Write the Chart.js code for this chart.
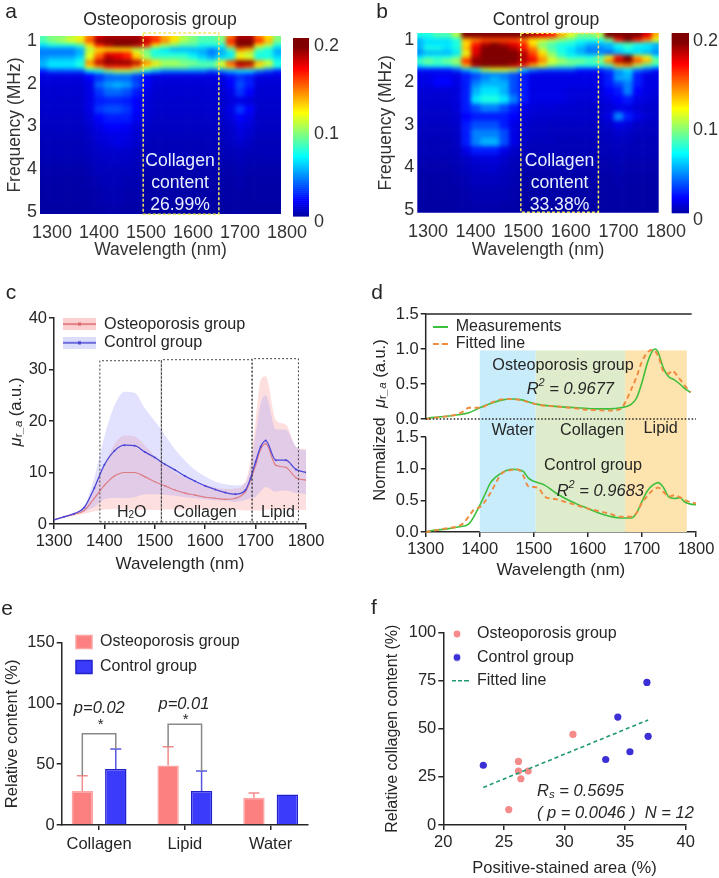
<!DOCTYPE html>
<html><head><meta charset="utf-8">
<script src="https://cdn.jsdelivr.net/npm/chart.js@4"></script>
<style>html,body{margin:0;padding:0;background:#fff}#root{position:relative;width:719px;height:878px;overflow:hidden}canvas{position:absolute;left:0;top:0}</style>
</head><body><div id="root"></div>
<script>
/* ---------- DATA ---------- */
const heatWaves=[1280,1300,1320,1340,1360,1380,1400,1420,1440,1460,1480,1500,1520,1540,1560,1580,1600,1620,1640,1660,1680,1700,1720,1740,1760,1780];
const heatFreqs=[0.9,1.0,1.1,1.2,1.3,1.4,1.5,1.6,1.7,1.8,1.9,2.0,2.2,2.4,2.6,2.8,3.0,3.2,3.4,3.6,3.8,4.0,4.3,4.6,5.0];
const heatOsteo=[
[9,10,10,11,12,15,18,19,19,19,19,17,16,14,13,11,10,9,9,10,15,19,19,15,13,10],
[9,10,11,12,13,16,20,20,20,20,20,19,17,15,13,11,10,9,9,10,17,20,20,17,14,10],
[7,8,8,8,9,13,17,19,20,20,19,17,13,11,10,9,9,8,8,8,15,20,20,13,11,8],
[5,5,5,5,6,11,13,13,13,13,11,10,8,7,6,6,6,6,5,6,9,15,14,9,8,6],
[5,5,5,5,6,12,15,18,18,17,13,10,8,8,8,8,7,6,5,6,7,12,11,8,8,6],
[5.5,6,6,6,7,12,16,19,18,17,14,11,9,9,9,9,8,7,6,7,8,13,12,8,8,7],
[6,7,7,7,8,15,19,20,20,20,19,15,13,11,11,10,10,9,9,12,16,20,20,14,12,8],
[6,7,7,7,8,13,15,17,17,17,15,13,11,10,10,10,9,9,9,11,14,17,16,12,10,8],
[3,4,4,4,4,7,8,10,11,11,10,8,6,5,5,5,5,5,4,5,6,7,7,5,4,3],
[2,2,2,2,2,2.5,3.5,4.5,5,5,4,2.5,2,2,2,2,2,2,2,2,3,3.5,3,2,2,2],
[1.8,1.8,1.8,1.8,1.8,2.5,3.5,4.5,4.5,4.5,3.5,2.5,1.8,1.8,1.8,1.8,1.8,1.8,1.8,1.8,2.5,3.5,3,1.8,1.8,1.8],
[1.7,1.7,1.7,1.7,1.7,2,4.5,5.5,6,5.5,4,2.5,1.7,1.7,1.7,1.7,1.7,1.7,1.7,1.7,2.5,4,3,1.7,1.7,1.7],
[1.6,1.6,1.6,1.6,1.6,2,3.5,4.5,4.5,4,3,2,1.6,1.6,1.6,1.6,1.6,1.6,1.6,1.6,2,3.5,2.5,1.6,1.6,1.6],
[1.5,1.5,1.5,1.5,1.5,2,3,3.2,3.2,3,2.5,1.8,1.5,1.5,1.5,1.5,1.5,1.5,1.5,1.5,1.8,2,1.8,1.5,1.5,1.5],
[1.5,1.5,1.5,1.5,1.5,2,3.5,4,4,3.5,2.5,1.8,1.5,1.5,1.5,1.5,1.5,1.5,1.5,1.5,2,3.5,2.5,1.5,1.5,1.5],
[1.4,1.4,1.4,1.4,1.4,1.8,2.5,3,3,3,2.2,1.7,1.4,1.4,1.4,1.4,1.4,1.4,1.4,1.4,1.8,2.5,2,1.4,1.4,1.4],
[1.3,1.3,1.3,1.3,1.3,1.6,2,2.5,2.5,2.3,1.8,1.5,1.3,1.3,1.3,1.3,1.3,1.3,1.3,1.3,1.5,2,1.7,1.3,1.3,1.3],
[1.2,1.2,1.2,1.2,1.2,1.4,1.8,2,2,2,1.6,1.3,1.2,1.2,1.2,1.2,1.2,1.2,1.2,1.2,1.4,1.8,1.5,1.2,1.2,1.2],
[1.1,1.1,1.1,1.1,1.1,1.3,1.6,1.8,2,1.8,1.5,1.2,1.1,1.1,1.1,1.1,1.1,1.1,1.1,1.1,1.3,1.5,1.3,1.1,1.1,1.1],
[1.1,1.1,1.1,1.1,1.1,1.2,1.4,1.5,1.5,1.5,1.3,1.1,1.1,1.1,1.1,1.1,1.1,1.1,1.1,1.1,1.1,1.2,1.1,1.1,1.1,1.1],
[1,1,1,1,1,1.1,1.3,1.4,1.4,1.3,1.2,1,1,1,1,1,1,1,1,1,1,1.1,1,1,1,1],
[0.9,0.9,0.9,0.9,0.9,1,1.2,1.2,1.2,1.2,1.1,0.9,0.9,0.9,0.9,0.9,0.9,0.9,0.9,0.9,0.9,1,0.9,0.9,0.9,0.9],
[0.8,0.8,0.8,0.8,0.8,0.9,1,1.1,1.1,1,1,0.8,0.8,0.8,0.8,0.8,0.8,0.8,0.8,0.8,0.8,0.9,0.8,0.8,0.8,0.8],
[0.75,0.75,0.75,0.75,0.75,0.8,0.9,1,1,0.9,0.9,0.75,0.75,0.75,0.75,0.75,0.75,0.75,0.75,0.75,0.75,0.8,0.75,0.75,0.75,0.75],
[0.7,0.7,0.7,0.7,0.7,0.75,0.8,0.9,0.9,0.8,0.8,0.7,0.7,0.7,0.7,0.7,0.7,0.7,0.7,0.7,0.7,0.75,0.7,0.7,0.7,0.7]
];
const heatControl=[
[8,8,9,9,11,20,20,20,20,20,20,20,19,18,17,14,12,10,10,11,20,20,20,20,18,14],
[6,7,7,7,8,14,15,16,16,16,16,15,13,12,11,10,9,8,8,8,10,17,20,17,15,12],
[6,7,7,7,8,13,17,19,20,19,18,17,13,10,9,8,8,7,6,6,6,8,9,8,7,6],
[6,8,8,7,8,14,18,20,20,20,19,17,15,11,9,8,7,6,5,5,6,7,8,7,7,6],
[5,6,6,6,7,12,18,20,20,20,20,19,16,13,10,8,7,6,5,5,4,6,7,7,6,5],
[7,8,8,8,9,14,19,20,20,20,20,19,17,14,11,9,8,8,8,9,12,17,20,14,12,8],
[9,10,9,10,11,17,20,20,20,20,20,19,18,15,12,11,10,10,9,10,15,19,20,16,14,10],
[7,8,8,8,9,14,19,20,20,20,19,17,14,12,10,9,9,8,8,8,9,14,15,11,9,8],
[3,3,3,3,4,6,8,11,12,12,11,7,5,4,4,4,4,3,3,3,4,6,7,5,4,3],
[2,2,2,2,2,3,4,5,5,5,4,3,2,2,2,2,2,2,2,2,3,5,6,3,2,2],
[2,2,2.5,2.5,2,3,4,5,6,5,4,3,2,2,2,2,2,2,2,2,3,6,6,3,2,2],
[2,2,2.5,2.5,2,3,5,6,6,6,4,3,2,2,2,2,2,2,2,2,3,4,5,3,2,2],
[1.7,1.7,1.7,1.7,1.8,3,6,7,7,6,4,3,2,2,2,2,1.8,1.8,1.8,1.8,2.5,3,5,2.5,2,1.8],
[1.6,1.6,1.6,1.6,1.8,3,7,8,8,7,5,3,2,2,2,2,1.8,1.7,1.7,1.7,2,2.5,3,2,1.8,1.7],
[1.5,1.5,1.5,1.5,1.7,3,4,5,5,4,3,2,1.8,1.7,1.7,1.6,1.6,1.5,1.5,1.5,1.7,2,2,1.7,1.5,1.5],
[1.4,1.4,1.4,1.4,1.6,2.5,3,3,3,3,2.5,1.8,1.6,1.5,1.5,1.5,1.5,1.5,1.5,1.5,2,5,3,2,1.6,1.5],
[1.3,1.3,1.3,1.3,1.5,3,4,4,4,3,2,1.6,1.4,1.4,1.3,1.3,1.3,1.3,1.3,1.3,1.5,2,1.8,1.4,1.3,1.3],
[1.2,1.2,1.2,1.2,1.4,3,5,5,5,4,2,1.5,1.3,1.3,1.2,1.2,1.2,1.2,1.2,1.2,1.3,1.5,1.4,1.2,1.2,1.2],
[1.1,1.1,1.1,1.1,1.3,3,5,6,6,4,2,1.4,1.2,1.2,1.2,1.1,1.1,1.1,1.1,1.1,1.2,1.3,1.2,1.1,1.1,1.1],
[1.1,1.1,1.1,1.1,1.2,2,3,3,3,2,1.5,1.2,1.1,1.1,1.1,1.1,1.1,1.1,1.1,1.1,1.1,1.2,1.1,1.1,1.1,1.1],
[1,1,1,1,1.1,1.4,1.7,1.8,1.8,1.5,1.2,1,1,1,1,1,1,1,1,1,1,1.1,1,1,1,1],
[0.9,0.9,0.9,0.9,1,1.2,1.4,1.5,1.5,1.3,1.1,0.9,0.9,0.9,0.9,0.9,0.9,0.9,0.9,0.9,0.9,1,0.9,0.9,0.9,0.9],
[0.8,0.8,0.8,0.8,0.9,1,1.2,1.2,1.2,1.1,1,0.8,0.8,0.8,0.8,0.8,0.8,0.8,0.8,0.8,0.8,0.9,0.8,0.8,0.8,0.8],
[0.75,0.75,0.75,0.75,0.8,0.9,1,1,1,1,0.9,0.75,0.75,0.75,0.75,0.75,0.75,0.75,0.75,0.75,0.75,0.8,0.75,0.75,0.75,0.75],
[0.7,0.7,0.7,0.7,0.75,0.8,0.9,0.9,0.9,0.8,0.8,0.7,0.7,0.7,0.7,0.7,0.7,0.7,0.7,0.7,0.7,0.75,0.7,0.7,0.7,0.7]
];
const heatTickX=[1300,1400,1500,1600,1700,1800];
const heatTickY=[1,2,3,4,5];
const colorTicks=[0,0.1,0.2];
const boxOsteoX=[1494,1655], boxOsteoY=[0.81,5.05];
const boxControlX=[1495,1658], boxControlY=[0.84,5.05];

const specWaves=[1300,1320,1340,1360,1380,1400,1420,1440,1460,1480,1500,1520,1540,1560,1580,1600,1620,1640,1660,1680,1690,1700,1710,1720,1740,1760,1780,1800];
const ctrlMean=[0.8,1.4,2.0,3.2,7,11.5,14.2,15.3,15.2,14,12.9,11.6,10.5,9.3,8.3,7.4,6.7,6.1,5.8,6.6,8.9,12.1,15,16.2,12.4,12.4,10.6,10];
const ctrlUpper=[0.8,1.5,2.2,3.5,9,17,23,25.7,25.5,22.5,20,17.3,14.5,12.3,10.5,9.2,8.2,7.7,7.5,8,11,17.3,23.4,25,18.4,18.3,15,14.3];
const ctrlLower=[0.8,1.3,1.8,2.5,3.3,4.8,5.1,5,5.2,5.8,5.8,5.7,5.5,5.2,5,4.8,4.6,4.5,4.3,4.7,5,5.3,6.3,7.2,6.3,6.5,6,5.8];
const opMean=[0.8,1.4,1.9,2.6,5,7.5,9.3,10,10,9.2,8.2,7.4,6.6,6,5.6,5.2,5,4.8,5,6.3,8.5,11.4,14.5,15.6,11.4,11,9,8.5];
const opUpper=[0.8,1.5,2.2,3.2,7,11.5,15.5,17.2,17,15.3,13.2,11.7,10,9,8.2,7.6,7.1,6.8,6.9,8.3,12.4,19.9,28,28.7,20.2,19.3,15,14.5];
const opLower=[0.8,1.2,1.6,2,2.5,2.8,2.9,2.8,2.8,2.7,2.7,2.8,2.8,2.8,2.9,2.8,2.8,2.7,2.8,2.6,2.6,2.6,2.6,2.8,2.8,2.8,2.7,2.7];
const regionBoxesC=[[1391,1513,31.7],[1513,1693,31.9],[1693,1785,32.1]];

const dMeasWaveTop=[1300,1310,1340,1360,1380,1400,1420,1440,1460,1480,1500,1520,1540,1560,1580,1600,1620,1640,1660,1680,1690,1700,1710,1720,1725,1730,1740,1750,1760,1770,1780,1790];
const dMeasTop=[0,0.02,0.04,0.06,0.09,0.16,0.22,0.27,0.285,0.27,0.22,0.195,0.18,0.17,0.16,0.15,0.145,0.145,0.16,0.21,0.3,0.52,0.8,0.98,1,0.95,0.72,0.6,0.56,0.5,0.43,0.38];
const dFitWaveTop=[1300,1320,1340,1360,1370,1380,1400,1420,1440,1460,1480,1500,1520,1540,1560,1580,1600,1620,1640,1660,1670,1680,1690,1700,1710,1720,1730,1740,1750,1755,1770,1780,1790];
const dFitTop=[0,0.02,0.04,0.07,0.11,0.16,0.16,0.23,0.28,0.285,0.26,0.22,0.19,0.18,0.165,0.15,0.13,0.125,0.12,0.14,0.25,0.42,0.6,0.82,0.95,0.99,0.9,0.68,0.65,0.69,0.57,0.47,0.38];
const dMeasWaveBot=[1300,1310,1340,1360,1380,1400,1410,1420,1440,1460,1480,1490,1500,1520,1540,1560,1580,1600,1620,1640,1660,1680,1690,1700,1710,1720,1730,1740,1750,1760,1770,1780,1790,1800];
const dMeasBot=[0,0.02,0.05,0.08,0.13,0.42,0.6,0.78,0.93,0.99,0.96,0.85,0.8,0.74,0.62,0.52,0.44,0.37,0.3,0.25,0.22,0.22,0.3,0.48,0.65,0.74,0.78,0.7,0.55,0.53,0.54,0.47,0.44,0.43];
const dFitWaveBot=[1300,1320,1340,1360,1370,1380,1390,1400,1420,1430,1440,1460,1470,1480,1490,1500,1510,1520,1540,1560,1580,1600,1620,1640,1660,1680,1690,1700,1710,1720,1730,1740,1750,1760,1770,1780,1800];
const dFitBot=[0,0.03,0.06,0.09,0.14,0.25,0.36,0.39,0.62,0.78,0.92,0.98,0.99,0.9,0.72,0.71,0.68,0.56,0.52,0.47,0.42,0.37,0.33,0.29,0.24,0.24,0.3,0.46,0.57,0.66,0.7,0.63,0.56,0.58,0.55,0.5,0.45];
const dBandEdges=[1400,1503.5,1669,1783];
const dBandColors=['#c9ecfa','#dfeccb','#fde3ae'];
const dTicksY=[0,0.5,1,1.5];

const eCategories=['Collagen','Lipid','Water'];
const eOsteo=[28,49,22.5];
const eControl=[46,28,25];
const eOsteoErr=[40.6,64.4,26.3];
const eControlErr=[62.5,44.4,25];
const eBrackets=[{i:0,top:75},{i:1,top:83}];

const fOsteoX=[25.4,26.2,26.2,26.4,27,30.7], fOsteoY=[8,33,28,24,28,47];
const fControlX=[23.3,33.4,34.4,35.4,36.8,36.9], fControlY=[31,34,56,38,74,46];
const fLineX=[23.3,36.9], fLineY=[19.5,54.5];

/* ---------- HELPERS ---------- */
const W=719,H=878,FF='"Liberation Sans",Arial,sans-serif',INK='#262626';
const root=document.getElementById('root');
const f=(s,st='')=>`${st} ${s}px ${FF}`.trim();
const zip=(x,y)=>x.map((v,i)=>({x:v,y:y[i]}));
Chart.defaults.font.family=FF;
Chart.defaults.animation=false;

function jet(v){const t=Math.min(1,Math.max(0,v/20));const c=a=>Math.round(255*Math.min(1,Math.max(0,1.5-Math.abs(4*t-a))));return `rgb(${c(3)},${c(2)},${c(1)})`;}

function textPlugin(items){return{id:'texts',afterDatasetsDraw(ch){const c=ch.ctx;items.forEach(it=>{
  c.save();c.translate(it.x,it.y);if(it.rot)c.rotate(it.rot);c.fillStyle=it.color||INK;c.textBaseline='middle';c.textAlign='left';
  const runs=it.runs||[{t:it.t,font:it.font}];let w=0;runs.forEach(r=>{c.font=r.font||it.font;w+=c.measureText(r.t).width;});
  let x=(it.align==='left')?0:-w/2;runs.forEach(r=>{c.font=r.font||it.font;c.fillText(r.t,x,r.dy||0);x+=c.measureText(r.t).width;});c.restore();});}};}
function legendAt(x,y){return{id:'legendAt',afterLayout(ch){const l=ch.legend,p=l.options.labels.padding;l.left=x-p;l.top=y-p;l.right=W;l.bottom=H;}};}
function swatch(w,h,draw){const s=document.createElement('canvas');s.width=w;s.height=h;draw(s.getContext('2d'));return s;}
function legendOpts(items,size,pad,boxW,extra){return{display:true,position:'chartArea',align:'start',labels:Object.assign({usePointStyle:true,pointStyleWidth:boxW,boxHeight:size,boxWidth:boxW,padding:pad,font:{size},color:INK,
  generateLabels:()=>items.map(i=>Object.assign({hidden:false,lineWidth:0,fontColor:INK},i))},extra||{})};}
function axis(o){const b={type:'linear',grid:{display:true,drawOnChartArea:false,drawTicks:true,color:INK,lineWidth:1.5,tickLength:5,tickWidth:1.5},border:{display:true,color:INK,width:1.5},
  ticks:{color:INK,font:{size:o.size||16},padding:2,autoSkip:false,maxRotation:0,minRotation:0,callback:v=>String(v)}};
  if(o.title)b.title={display:true,text:o.title,color:o.titleColor||INK,font:{size:o.titleSize||17},padding:0};
  return b;}
function mk(type,plot,yW,xH,data,scales,plugins,legend){
  const cv=document.createElement('canvas');cv.width=W;cv.height=H;root.appendChild(cv);
  Object.values(scales).forEach(s=>{s.afterFit=k=>{if(k.isHorizontal())k.height=xH;else k.width=yW;};});
  return new Chart(cv,{type,data,plugins,options:{responsive:false,maintainAspectRatio:false,animation:false,devicePixelRatio:1,events:[],
    layout:{autoPadding:false,padding:{left:plot.l-(plot.rightAxis?0:yW),top:plot.t,right:W-plot.r-(plot.rightAxis?yW:0),bottom:H-plot.b-xH}},
    plugins:{legend:legend||{display:false},tooltip:{enabled:false},title:{display:false}},scales}});
}
const setTicks=a=>s=>{s.ticks=a.map(v=>({value:v}));};
const NOGRID={display:false,drawTicks:false};

/* ---------- HEAT PANELS ---------- */
function heatPlugin(grid){return{id:'heat',beforeDatasetsDraw(ch){
  const sx=ch.scales.x,sy=ch.scales.y,a=ch.chartArea,off=document.createElement('canvas');off.width=W;off.height=H;const o=off.getContext('2d');
  grid.forEach((row,r)=>{const fr=heatFreqs[r];
    const y0=sy.getPixelForValue(r?(heatFreqs[r-1]+fr)/2:fr-0.5),y1=sy.getPixelForValue(r<grid.length-1?(heatFreqs[r+1]+fr)/2:fr+0.5);
    row.forEach((v,c)=>{const w=heatWaves[c];const x0=sx.getPixelForValue(c?w-10:w-40),x1=sx.getPixelForValue(c<row.length-1?w+10:w+40);
      o.fillStyle=jet(v);o.fillRect(x0,y0,x1-x0+0.6,y1-y0+0.6);});});
  const c=ch.ctx;c.save();c.beginPath();c.rect(a.left,a.top,a.right-a.left,a.bottom-a.top);c.clip();c.filter='blur(2px)';c.drawImage(off,0,0);c.restore();
}};}
function barPlugin(){return{id:'cbar',beforeDatasetsDraw(ch){const s=ch.scales.y,a=ch.chartArea,c=ch.ctx,span=s.max-s.min;
  for(let i=0;i<90;i++){const v0=s.min+span*i/90,v1=s.min+span*(i+1)/90;const y0=s.getPixelForValue(v1),y1=s.getPixelForValue(v0);c.fillStyle=jet((v0+v1)/2*100);c.fillRect(a.left,y0,a.right-a.left,y1-y0+0.6);}
}};}
function heatPanel(p){
  const pxPerNm=(p.x1800-p.x1300)/500, pxPerF=(p.y5-p.y1)/4;
  const xMin=1300-(p.x1300-p.l)/pxPerNm, xMax=1300+(p.r-p.x1300)/pxPerNm;
  const yMin=1-(p.y1-p.t)/pxPerF, yMax=1+(p.b-p.y1)/pxPerF;
  const xs=axis({title:'Wavelength (nm)',size:18});Object.assign(xs,{min:xMin,max:xMax,afterBuildTicks:setTicks(heatTickX),grid:NOGRID,border:{display:false},position:'bottom',axis:'x'});
  xs.ticks.padding=p.xPad;xs.title.color='#333';xs.ticks.color='#333';xs.title.font.size=17.5;
  const ys=axis({title:'Frequency (MHz)',size:18});Object.assign(ys,{min:yMin,max:yMax,reverse:true,afterBuildTicks:setTicks(heatTickY),grid:NOGRID,border:{display:false},position:'left',axis:'y'});
  ys.ticks.padding=3;ys.title.color='#333';ys.ticks.color='#333';ys.title.font.size=17.5;
  const bx=p.boxX,by=p.boxY;
  const boxPts=zip([bx[0],bx[1],bx[1],bx[0],bx[0]],[by[0],by[0],by[1],by[1],by[0]]);
  mk('scatter',p,p.l-p.titleX+10.5,p.xTitleY+10.5-p.b,{datasets:[{data:boxPts,showLine:true,pointRadius:0,borderColor:'#f4e75e',borderWidth:1.5,borderDash:[3,2],clip:false,tension:0}]},{x:xs,y:ys},[heatPlugin(p.grid),textPlugin(p.texts)]);
  /* colour bar */
  const c=p.cbar,per=(c.y0-c.y2)/0.2;
  const cy=axis({size:18});Object.assign(cy,{position:'right',axis:'y',min:(c.y0-c.b)/per,max:0.2+(c.y2-c.t)/per,afterBuildTicks:setTicks(colorTicks),grid:NOGRID,border:{display:false}});
  cy.ticks.padding=c.pad;cy.ticks.color='#333';
  const cx={type:'linear',display:false,axis:'x',min:0,max:1};
  mk('scatter',{l:c.l,r:c.r,t:c.t,b:c.b,rightAxis:true},30,0,{datasets:[{data:[]}]},{x:cx,y:cy},[barPlugin()]);
}
const boxText='#e9eeff';
heatPanel({l:40,r:281,t:36,b:214,x1300:52,x1800:287,y1:41,y5:212,xPad:8,titleX:15,xTitleY:250,grid:heatOsteo,boxX:boxOsteoX,boxY:boxOsteoY,
  cbar:{l:293,r:309,t:38,b:216,y2:46,y0:222,pad:5},
  texts:[{t:'a',x:11,y:12,font:f(21)},{t:'Osteoporosis group',x:160,y:20,font:f(17.6)},
  {t:'Collagen',x:180,y:161,font:f(17.6),color:boxText},{t:'content',x:180,y:183,font:f(17.6),color:boxText},{t:'26.99%',x:180,y:205,font:f(17.6),color:boxText}]});
heatPanel({l:417.3,r:658.7,t:33,b:212.7,x1300:428,x1800:666,y1:40,y5:210,xPad:9,titleX:386,xTitleY:250,grid:heatControl,boxX:boxControlX,boxY:boxControlY,
  cbar:{l:671.7,r:689,t:33,b:212.7,y2:41,y0:220,pad:4},
  texts:[{t:'b',x:382,y:12,font:f(21)},{t:'Control group',x:546,y:20,font:f(17.6)},
  {t:'Collagen',x:559.5,y:161,font:f(17.6),color:boxText},{t:'content',x:559.5,y:183,font:f(17.6),color:boxText},{t:'33.38%',x:559.5,y:205,font:f(17.6),color:boxText}]});

/* ---------- PANEL C ---------- */
(function(){
  const plot={l:54,r:306,t:318,b:524};
  const x=axis({title:'Wavelength (nm)',size:16.5});Object.assign(x,{min:1300,max:1800,position:'bottom',axis:'x'});x.ticks.stepSize=100;x.ticks.padding=3;
  const y=axis({size:16.5});Object.assign(y,{min:0,max:40,position:'left',axis:'y'});y.ticks.stepSize=10;
  const ds=[],sm={cubicInterpolationMode:'monotone'};
  regionBoxesC.forEach(b=>ds.push({data:zip([b[0],b[1],b[1],b[0],b[0]],[0.4,0.4,b[2],b[2],0.4]),showLine:true,pointRadius:0,borderColor:'#444',borderWidth:1,borderDash:[2,2],order:0,clip:false}));
  ds.push(Object.assign({data:zip(specWaves,ctrlMean),showLine:true,borderColor:'#4a46d8',borderWidth:1.3,pointRadius:1,pointBackgroundColor:'#4a46d8',pointBorderWidth:0,order:1},sm));
  ds.push(Object.assign({data:zip(specWaves,opMean),showLine:true,borderColor:'#dc7d84',borderWidth:1.2,pointRadius:0.8,pointBackgroundColor:'#dc7d84',pointBorderWidth:0,order:2},sm));
  const ci=ds.length;
  ds.push(Object.assign({data:zip(specWaves,ctrlUpper),showLine:true,pointRadius:0,borderWidth:0,fill:{target:ci+1},backgroundColor:'rgba(146,146,250,0.27)',borderColor:'transparent',order:3},sm));
  ds.push(Object.assign({data:zip(specWaves,ctrlLower),showLine:true,pointRadius:0,borderWidth:0,borderColor:'transparent',order:3},sm));
  const oi=ds.length;
  ds.push(Object.assign({data:zip(specWaves,opUpper),showLine:true,pointRadius:0,borderWidth:0,fill:{target:oi+1},backgroundColor:'rgba(252,170,170,0.38)',borderColor:'transparent',order:4},sm));
  ds.push(Object.assign({data:zip(specWaves,opLower),showLine:true,pointRadius:0,borderWidth:0,borderColor:'transparent',order:4},sm));
  const sw=(band,line)=>swatch(33,12,c=>{c.fillStyle=band;c.fillRect(0,0,33,12);c.fillStyle=line;c.fillRect(0,5.3,33,1.4);c.fillRect(15,4.5,3,3);});
  mk('scatter',plot,40,51,{datasets:ds},{x,y},[textPlugin([
    {t:'c',x:11,y:293,font:f(21)},
    {x:16,y:412,rot:-Math.PI/2,runs:[{t:'\u03bc',font:f(16.5,'italic')},{t:'r',font:f(11.5),dy:3},{t:'_a',font:f(11.5,'italic'),dy:3},{t:' (a.u.)',font:f(16.5)}]},
    {x:131.7,y:513,runs:[{t:'H',font:f(16)},{t:'2',font:f(10),dy:2},{t:'O',font:f(16)}]},
    {t:'Collagen',x:205,y:513,font:f(16)},{t:'Lipid',x:278,y:513,font:f(16)}
  ]),legendAt(63,316)],legendOpts([
    {text:'Osteoporosis group',pointStyle:sw('#fbd0d0','#d9636a')},
    {text:'Control group',pointStyle:sw('#dcdcfb','#3f3fd0')}],16.2,2.5,33));
})();

/* ---------- PANEL D ---------- */
(function(){
  const plot={l:425.7,r:696,t:314,b:532};
  const x=axis({title:'Wavelength (nm)',size:16.5});Object.assign(x,{min:1300,max:1800,position:'bottom',axis:'x'});x.ticks.stepSize=100;x.ticks.padding=3;
  const yy=(min,max,w)=>{const a=axis({size:16.5});Object.assign(a,{min,max,position:'left',axis:'y',stack:'d',stackWeight:w,afterBuildTicks:setTicks(dTicksY)});a.ticks.callback=v=>Number(v).toFixed(1);a.border={display:false};return a;};
  const top=yy(-9/70,1.5,114),bot=yy(0,104/63.33,104);
  const lines=(xs,ys,yID,color,extra)=>Object.assign({data:zip(xs,ys),yAxisID:yID,showLine:true,pointRadius:0,borderColor:color,borderWidth:1.6,clip:false},extra||{});
  const G='#3cbf3c',O='#ef8a3e',dash={borderDash:[5,3.5],borderWidth:1.9},smooth={cubicInterpolationMode:'monotone'};
  const bandPlugin={id:'bands',beforeDatasetsDraw(ch){const c=ch.ctx,sx=ch.scales.x,t=ch.scales.y1.getPixelForValue(0.98),b=ch.scales.y2.getPixelForValue(0);
    dBandColors.forEach((col,i)=>{const l=sx.getPixelForValue(dBandEdges[i]),r=sx.getPixelForValue(dBandEdges[i+1]);c.fillStyle=col;c.fillRect(l,t,r-l,b-t);});}};
  const ds=[
    lines([1300,1300],[0,1.5],'y1',INK,{borderWidth:1.5}),lines([1300,1300],[0,1.5],'y2',INK,{borderWidth:1.5}),
    lines([1300,1792],[1.5,1.5],'y1',INK,{borderWidth:1.5}),lines([1300,1800],[0,0],'y1','#222',{borderDash:[1.5,2],borderWidth:1.3}),
    lines(dFitWaveTop,dFitTop,'y1',O,Object.assign({},dash,smooth)),lines(dMeasWaveTop,dMeasTop,'y1',G,smooth),
    lines(dFitWaveBot,dFitBot,'y2',O,Object.assign({},dash,smooth)),lines(dMeasWaveBot,dMeasBot,'y2',G,smooth)];
  const r2=v=>[{t:'R',font:f(16.5,'italic')},{t:'2',font:f(11,'italic'),dy:-6},{t:' = '+v,font:f(16.5,'italic')}];
  mk('scatter',plot,45,49,{datasets:ds},{x,y2:bot,y1:top},[bandPlugin,textPlugin([
    {t:'d',x:377,y:293,font:f(21)},
    {x:380,y:420,rot:-Math.PI/2,runs:[{t:'Normalized  ',font:f(16.5)},{t:'\u03bc',font:f(16.5,'italic')},{t:'r',font:f(11.5),dy:3},{t:'_a',font:f(11.5,'italic'),dy:3},{t:' (a.u.)',font:f(16.5)}]},
    {t:'Osteoporosis group',x:563,y:366,font:f(16.2)},{x:526.7,y:389,align:'left',runs:r2('0.9677')},
    {t:'Water',x:512.7,y:431,font:f(16.2)},{t:'Collagen',x:592,y:431,font:f(16.2)},{t:'Lipid',x:660.7,y:429,font:f(16.2)},
    {t:'Control group',x:593,y:466,font:f(16.2)},{x:556.7,y:491,align:'left',runs:r2('0.9683')}
  ]),legendAt(432.7,319)],legendOpts([
    {text:'Measurements',pointStyle:swatch(15,4,c=>{c.fillStyle=G;c.fillRect(0,1,15,2);})},
    {text:'Fitted line',pointStyle:swatch(15,4,c=>{c.fillStyle=O;c.fillRect(0,1,6,2);c.fillRect(9,1,6,2);})}],16,1,15));
})();

/* ---------- PANEL E ---------- */
(function(){
  const plot={l:61.7,r:308,t:642.7,b:825};
  const x=axis({size:16.5});Object.assign(x,{min:1-(99-61.7)/85.7,max:3+(308-270.7)/85.7,offset:false,position:'bottom',axis:'x',afterBuildTicks:setTicks([1,2,3])});
  x.grid.offset=false;x.ticks.callback=v=>eCategories[v-1];x.ticks.padding=5;
  const y=axis({title:'Relative content (%)',size:16.5,titleSize:16.5});Object.assign(y,{min:0,max:150,position:'left',axis:'y',afterBuildTicks:setTicks([0,50,100,150])});
  const catX=[1,2,3];
  const mkBar=(v,bg,bd,label)=>({type:'bar',label,data:zip(catX,v),backgroundColor:bg,borderColor:bd,borderWidth:1.5,categoryPercentage:0.78,barPercentage:0.64});
  const deco={id:'err',afterDatasetsDraw(ch){const c=ch.ctx,sy=ch.scales.y;
    [[0,eOsteoErr,'#f28c8c'],[1,eControlErr,'#5757e2']].forEach(([di,err,col])=>{const m=ch.getDatasetMeta(di);err.forEach((e,i)=>{const bx=m.data[i].x,bs=m.data[i].y,t=sy.getPixelForValue(e);
      if(Math.abs(t-bs)<1)return;c.strokeStyle=col;c.lineWidth=1.5;c.beginPath();c.moveTo(bx,bs);c.lineTo(bx,t);c.moveTo(bx-5.5,t);c.lineTo(bx+5.5,t);c.stroke();});});
    eBrackets.forEach(b=>{const mA=ch.getDatasetMeta(0).data[b.i],mB=ch.getDatasetMeta(1).data[b.i],ty=sy.getPixelForValue(b.top);
      c.strokeStyle='#8a8a8a';c.lineWidth=1.5;c.beginPath();c.moveTo(mA.x,sy.getPixelForValue(eOsteoErr[b.i]));c.lineTo(mA.x,ty);c.lineTo(mB.x,ty);c.lineTo(mB.x,sy.getPixelForValue(eControlErr[b.i]));c.stroke();});
  }};
  mk('bar',plot,59,52,{datasets:[mkBar(eOsteo,'#fd8080','#fca4a4','Osteoporosis group'),mkBar(eControl,'#3b3bfb','#2222cc','Control group')]},{x,y},[deco,textPlugin([
    {t:'e',x:7,y:609,font:f(21)},
    {t:'p=0.02',x:99.3,y:708,font:f(16.5,'italic')},{t:'p=0.01',x:184,y:704,font:f(16.5,'italic')},
    {t:'*',x:100.7,y:725,font:f(15)},{t:'*',x:185.7,y:720,font:f(15)}
  ]),legendAt(76,634)],legendOpts([
    {text:'Osteoporosis group',fillStyle:'#fd8080',strokeStyle:'#fca4a4',lineWidth:1.5},
    {text:'Control group',fillStyle:'#3b3bfb',strokeStyle:'#2222cc',lineWidth:1.5}],16,9,16,{usePointStyle:false,boxHeight:13}));
})();

/* ---------- PANEL F ---------- */
(function(){
  const plot={l:443.3,r:685.7,t:632.3,b:825};
  const x=axis({title:'Positive-stained area (%)',size:16.5,titleSize:16.5});Object.assign(x,{min:20,max:40,position:'bottom',axis:'x'});x.ticks.stepSize=5;x.ticks.padding=3;
  const y=axis({title:'Relative collagen content (%)',size:16.5,titleSize:16});Object.assign(y,{min:0,max:100,position:'left',axis:'y'});y.ticks.stepSize=25;
  const P='#f58a8a',B='#3b2fd6',L='#1f9a6b';
  const dot=col=>swatch(17,10,c=>{c.fillStyle=col;c.beginPath();c.arc(5,5,3.4,0,7);c.fill();});
  mk('scatter',plot,60,53,{datasets:[
    {data:zip(fLineX,fLineY),showLine:true,pointRadius:0,borderColor:L,borderWidth:1.6,borderDash:[4,3]},
    {data:zip(fOsteoX,fOsteoY),pointRadius:3.6,backgroundColor:P,borderWidth:0},
    {data:zip(fControlX,fControlY),pointRadius:3.6,backgroundColor:B,borderWidth:0}]},{x,y},[textPlugin([
    {t:'f',x:374,y:608,font:f(21)},
    {x:537,y:791,align:'left',runs:[{t:'R',font:f(16.5,'italic')},{t:'s',font:f(11.5,'italic'),dy:4},{t:' = 0.5695',font:f(16.5,'italic')}]},
    {t:'( p = 0.0046 )  N = 12',x:537,y:813,align:'left',font:f(16.5,'italic')}
  ]),legendAt(452,626)],legendOpts([
    {text:'Osteoporosis group',pointStyle:dot(P)},{text:'Control group',pointStyle:dot(B)},
    {text:'Fitted line',pointStyle:swatch(17,3,c=>{c.fillStyle=L;c.fillRect(0,0,4,2);c.fillRect(6,0,4,2);c.fillRect(12,0,5,2);})}],16,7.5,17));
})();
</script></body></html>
